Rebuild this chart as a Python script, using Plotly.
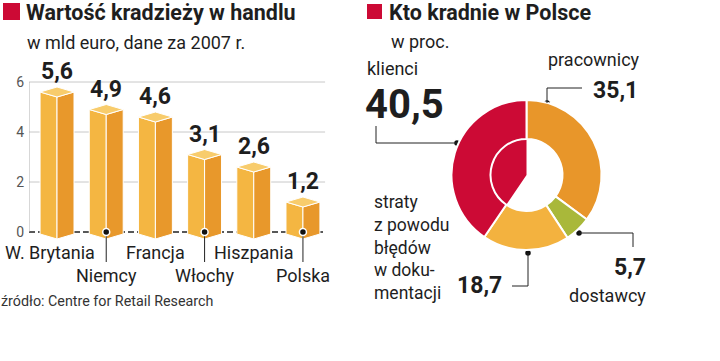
import plotly.graph_objects as go

# ---------------- data ----------------
countries = ["W. Brytania", "Niemcy", "Francja", "Włochy", "Hiszpania", "Polska"]
theft_values = [5.6, 4.9, 4.6, 3.1, 2.6, 1.2]
y_ticks = [0, 2, 4, 6]

pie_labels = ["pracownicy", "dostawcy", "straty z powodu błędów w dokumentacji", "klienci"]
pie_values = [35.1, 5.7, 18.7, 40.5]

# ---------------- style ----------------
FONT = "Roboto"
TXT = "#1e1e1e"
RED = "#CC0A35"
BAR_LEFT = "#F4B642"
BAR_RIGHT = "#E8982B"
BAR_TOP = "#F8CC6C"
PIE_COLORS = ["#E8962A", "#A9B83A", "#F3B23F", "#CC0A35"]

W, H = 720, 361


def px(x):
    return x / W


def py(y):
    return 1 - y / H


def fmt(v):
    return f"{v:.1f}".replace(".", ",")


fig = go.Figure()

# ---------------- 3D bars ----------------
hw = 0.345   # half width in x units
d = 0.2      # perspective depth in y units
base = -0.08
for i, v in enumerate(theft_values):
    left = dict(x=[i - hw, i - hw, i, i, i - hw], y=[base, v, v - d, base - d, base])
    right = dict(x=[i, i, i + hw, i + hw, i], y=[base - d, v - d, v, base, base - d])
    top = dict(x=[i - hw, i, i + hw, i, i - hw], y=[v, v + d, v, v - d, v])
    for poly, col in ((left, BAR_LEFT), (right, BAR_RIGHT), (top, BAR_TOP)):
        fig.add_trace(go.Scatter(x=poly["x"], y=poly["y"], mode="lines", fill="toself",
                                 fillcolor=col, line=dict(color="white", width=1),
                                 hoverinfo="skip", xaxis="x", yaxis="y"))

# dots at baseline for lower labels + tick lines
low_idx = [i for i in range(len(countries)) if i % 2 == 1]
for i in low_idx:
    fig.add_trace(go.Scatter(x=[i, i], y=[0, -1.2], mode="lines",
                             line=dict(color="#222", width=1), hoverinfo="skip",
                             xaxis="x", yaxis="y", cliponaxis=False))
fig.add_trace(go.Scatter(x=low_idx, y=[0] * len(low_idx), mode="markers",
                         marker=dict(color="#111", size=7, line=dict(color="white", width=1.5)),
                         hoverinfo="skip", xaxis="x", yaxis="y", cliponaxis=False))

# value labels
for i, v in enumerate(theft_values):
    fig.add_annotation(x=i, y=v + d, xref="x", yref="y", text=fmt(v), showarrow=False,
                       yanchor="bottom", yshift=0,
                       font=dict(family=FONT, size=23, color=TXT, weight="bold"))

# category labels
for i, c in enumerate(countries):
    yy = -0.8 if i % 2 == 0 else -1.72
    xs = 0
    if i == 0:
        xs = -7
    fig.add_annotation(x=i, y=yy, xref="x", yref="y", text=c, showarrow=False,
                       xshift=xs, font=dict(family=FONT, size=18, color=TXT))

shapes = []
# gridlines
for t in y_ticks[1:]:
    shapes.append(dict(type="line", xref="x", yref="y", x0=-0.57, x1=5.45, y0=t, y1=t,
                       line=dict(color="#C8C8C8", width=1), layer="below"))
# zero dashed line
shapes.append(dict(type="line", xref="x", yref="y", x0=-0.57, x1=5.45, y0=0, y1=0,
                   line=dict(color="#222", width=1.5, dash="6px,3px"), layer="below"))
# axis vertical line
shapes.append(dict(type="line", xref="x", yref="y", x0=-0.57, x1=-0.57, y0=0, y1=y_ticks[-1],
                   line=dict(color="#B0B0B0", width=1), layer="below"))

# ---------------- donut ----------------
pie_dom = dict(x=[px(451), px(602)], y=[py(250), py(100)])
fig.add_trace(go.Pie(values=pie_values, labels=pie_labels, sort=False, direction="clockwise",
                     rotation=0, domain=pie_dom, textinfo="none", hoverinfo="skip",
                     marker=dict(colors=["rgba(0,0,0,0)"] * 3 + [PIE_COLORS[3]],
                                 line=dict(width=0)), showlegend=False))
fig.add_trace(go.Pie(values=pie_values, labels=pie_labels, sort=False, direction="clockwise",
                     rotation=0, domain=pie_dom, hole=0.48, textinfo="none", hoverinfo="skip",
                     marker=dict(colors=PIE_COLORS, line=dict(color="white", width=2)),
                     showlegend=False))

# leader lines for donut (pixel layout)
def seg(x0, y0, x1, y1):
    shapes.append(dict(type="line", xref="paper", yref="paper", x0=px(x0), y0=py(y0),
                       x1=px(x1), y1=py(y1), line=dict(color="#222", width=1)))

seg(547, 103, 547, 88); seg(547, 88, 582, 88)          # pracownicy
seg(457, 143, 376, 143); seg(376, 143, 376, 126)       # klienci
seg(528, 253, 528, 286); seg(528, 286, 512, 286)       # straty
seg(579, 233, 633, 233); seg(633, 233, 633, 247)       # dostawcy

fig.add_trace(go.Scatter(x=[px(547), px(457), px(528), px(579)],
                         y=[py(103), py(143), py(253), py(233)], mode="markers",
                         marker=dict(color="#111", size=7, line=dict(color="white", width=1.5)),
                         xaxis="x2", yaxis="y2", hoverinfo="skip", cliponaxis=False))

# title squares
shapes.append(dict(type="rect", xref="paper", yref="paper", x0=px(3), x1=px(20), y0=py(20), y1=py(3),
                   fillcolor=RED, line=dict(width=0)))
shapes.append(dict(type="rect", xref="paper", yref="paper", x0=px(367), x1=px(382), y0=py(19), y1=py(4),
                   fillcolor=RED, line=dict(width=0)))


def text(x, y, s, size, bold=False, xanchor="left", color=TXT, align="left"):
    fig.add_annotation(x=px(x), y=py(y), xref="paper", yref="paper", text=s, showarrow=False,
                       xanchor=xanchor, yanchor="middle", align=align,
                       font=dict(family=FONT, size=size, color=color,
                                 weight="bold" if bold else "normal"))


text(24, 12, "Wartość kradzieży w handlu", 21.5, bold=True)
text(25, 42, "w mld euro, dane za 2007 r.", 18)
text(-1, 301, "źródło: Centre for Retail Research", 14.3, color="#333")

text(387, 13, "Kto kradnie w Polsce", 21.5, bold=True)
text(389, 41, "w proc.", 18)
text(594, 60, pie_labels[0], 18, xanchor="center")
text(591, 90, fmt(pie_values[0]), 23, bold=True)
text(365, 69, pie_labels[3], 18)
text(363, 104, fmt(pie_values[3]), 40, bold=True)
text(372, 247, "straty<br>z powodu<br>błędów<br>w doku-<br>mentacji", 17.5)
text(455, 285, fmt(pie_values[2]), 23, bold=True)
text(648, 267, fmt(pie_values[1]), 23, bold=True, xanchor="right")
text(607, 295, pie_labels[1], 18, xanchor="center")

# ---------------- layout ----------------
fig.update_layout(
    width=W, height=H, margin=dict(l=0, r=0, t=0, b=0),
    paper_bgcolor="white", plot_bgcolor="rgba(0,0,0,0)", showlegend=False,
    font=dict(family=FONT, color=TXT),
    shapes=shapes,
    xaxis=dict(domain=[px(29), px(330)], range=[-0.57, 5.55], visible=False, fixedrange=True),
    yaxis=dict(domain=[py(289.5), py(72)], range=[-2.3, 6.4], showgrid=False, zeroline=False,
               tickvals=y_ticks, ticktext=[str(t) for t in y_ticks], ticks="",
               ticklabelstandoff=4,
               tickfont=dict(family=FONT, size=14, color="#555"), showline=False, fixedrange=True),
    xaxis2=dict(domain=[0, 1], range=[0, 1], visible=False, anchor="y2"),
    yaxis2=dict(domain=[0, 1], range=[0, 1], visible=False, anchor="x2"),
)

fig.write_html("out.html", config={"displayModeBar": False},
               post_script="document.body.style.margin='0';")
